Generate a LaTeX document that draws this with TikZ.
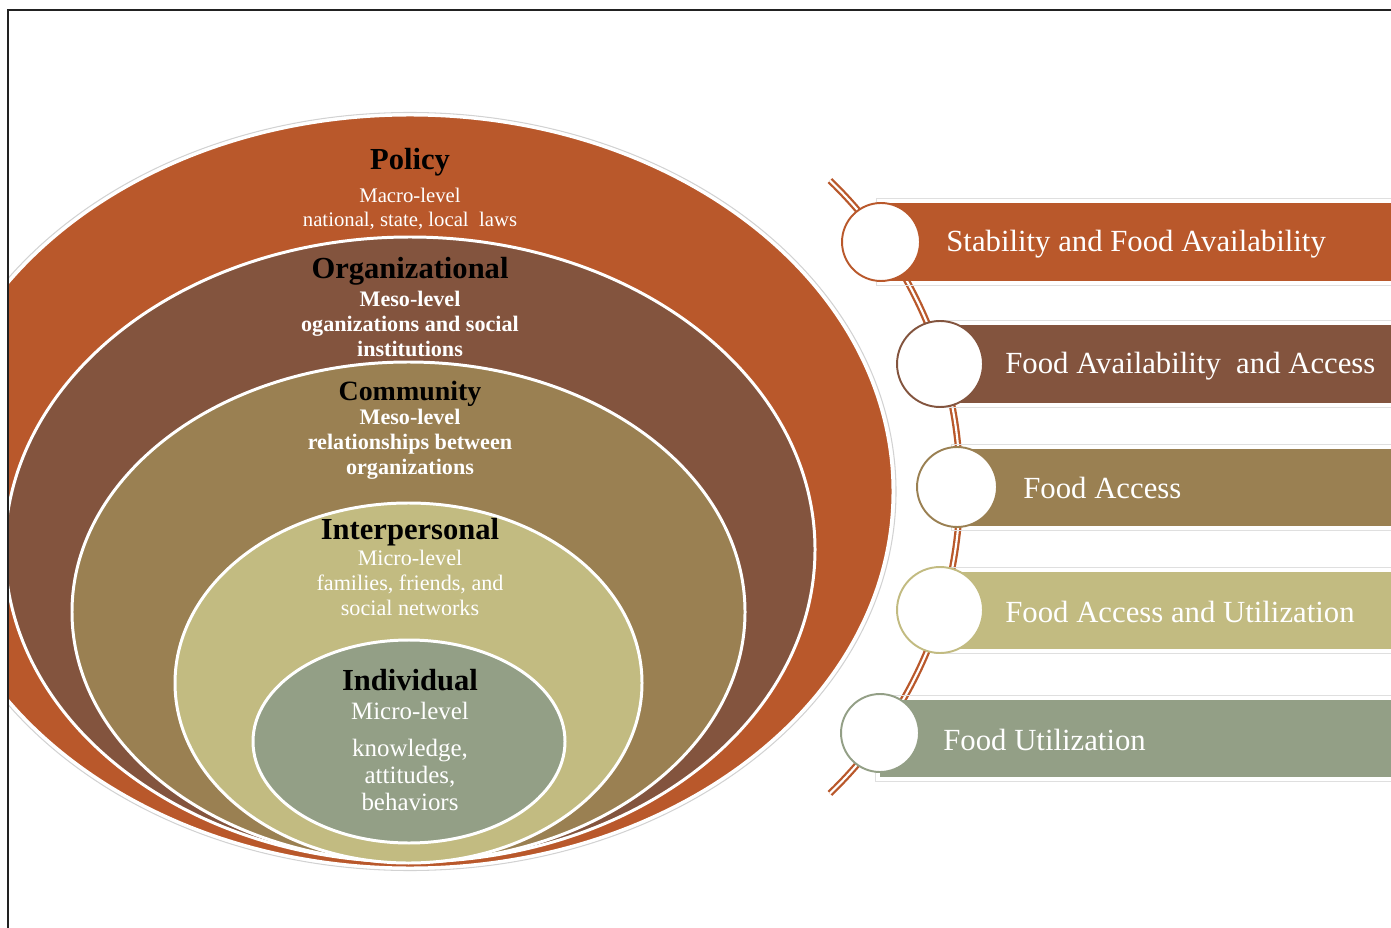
\documentclass[tikz,border=0pt]{standalone}
\usepackage{fontspec}
\setmainfont{Liberation Serif}
\definecolor{policyclr}{HTML}{B9582B}
\definecolor{orgclr}{HTML}{83543E}
\definecolor{commclr}{HTML}{9A8052}
\definecolor{interclr}{HTML}{C2BB81}
\definecolor{indivclr}{HTML}{939F86}
\definecolor{frameclr}{HTML}{222222}
\tikzset{
  layer/.style={draw=white, line width=1.7pt},
  head/.style={font=\bfseries\fontsize{17.4pt}{20pt}\selectfont, text=black, inner sep=0pt},
  subreg/.style={text=white, align=center, inner sep=0pt},
  subbold/.style={font=\bfseries\fontsize{12.6pt}{14.2pt}\selectfont, text=white, align=center, inner sep=0pt},
  ring/.style={circle, fill=white, line width=1.1pt, inner sep=0pt},
  bartext/.style={font=\fontsize{17.5pt}{20pt}\selectfont, text=white, inner sep=0pt, anchor=west},
  shade/.style={draw=gray!25, line width=0.5pt}
}
\begin{document}
\begin{tikzpicture}[x=0.02cm, y=-0.02cm]
		\useasboundingbox (0,0) rectangle (1391,928);
		
		%%%%% NESTED LEVELS %%%%%
		\begin{scope}
			\clip (9,11) rectangle (1391,928);
			\draw[gray!35, line width=0.6pt] (410,491.5) ellipse [x radius=486, y radius=379];
			\filldraw[layer, fill=policyclr] (410,491.5) ellipse [x radius=483, y radius=376.5];
			\filldraw[layer, fill=orgclr] (410,549.5) ellipse [x radius=405, y radius=312.5];
			\filldraw[layer, fill=commclr] (408.5,612) ellipse [x radius=336.5, y radius=250];
			\filldraw[layer, fill=interclr] (408.5,683) ellipse [x radius=233.5, y radius=180];
			\filldraw[layer, fill=indivclr] (409,741.5) ellipse [x radius=156, y radius=101.5];
		\end{scope}
		
		\node[head] (policy) at (410,162) {Policy};
		\node[subreg, font=\fontsize{11.8pt}{13.6pt}\selectfont] (policysub) at (410,209) {Macro-level\\national, state, local\ \ laws};
		
		\node[head] (org) at (410,271) {Organizational};
		\node[subbold] (orgsub) at (410,324) {Meso-level\\oganizations and social\\institutions};
		
		\node[head, font=\bfseries\fontsize{15.9pt}{18pt}\selectfont] (comm) at (410,394) {Community};
		\node[subbold] (commsub) at (410,444) {Meso-level\\relationships between\\organizations};
		
		\node[head] (inter) at (410,532) {Interpersonal};
		\node[subreg, font=\fontsize{12.6pt}{14.2pt}\selectfont] (intersub) at (410,583) {Micro-level\\families, friends, and\\social networks};
		
		\node[head] (indiv) at (410,680) {Individual};
		\node[subreg, font=\fontsize{14.2pt}{15.3pt}\selectfont] (indivmicro) at (410,711) {Micro-level};
		\node[subreg, font=\fontsize{14.2pt}{15.3pt}\selectfont] (indivsub) at (410,775) {knowledge,\\attitudes,\\behaviors};
		
		%%%%% FOOD SECURITY BARS %%%%%
		\draw[policyclr, double=white, double distance=1.2pt, line width=1.3pt] (534,487) ++(-46:426) arc [start angle=-46, end angle=46, radius=426];
		
		\draw[shade] (876,198) rectangle (1396,285);
		\fill[policyclr] (881,203) rectangle (1391,281);
		\draw[shade] (934,320) rectangle (1396,407);
		\fill[orgclr] (940,325) rectangle (1391,403);
		\draw[shade] (951,444) rectangle (1396,530);
		\fill[commclr] (957,449) rectangle (1391,526);
		\draw[shade] (934,567) rectangle (1396,653);
		\fill[interclr] (940,572) rectangle (1391,649);
		\draw[shade] (875,695) rectangle (1396,781);
		\fill[indivclr] (880,700) rectangle (1391,777);
		
		\node[ring, draw=policyclr, minimum size=1.56cm] (stab) at (881,242) {};
		\node[ring, draw=orgclr, minimum size=1.72cm] (avail) at (940,364) {};
		\node[ring, draw=commclr, minimum size=1.6cm] (access) at (957,487) {};
		\node[ring, draw=interclr, minimum size=1.72cm] (accutil) at (940,610) {};
		\node[ring, draw=indivclr, minimum size=1.56cm] (util) at (880,733) {};
		
		\node[bartext] (stabtxt) at (946,244) {Stability and Food Availability};
		\node[bartext] (availtxt) at (1005,366) {Food Availability\ \ and Access};
		\node[bartext] (accesstxt) at (1023,488) {Food Access};
		\node[bartext] (accutiltxt) at (1005,612) {Food Access and Utilization};
		\node[bartext] (utiltxt) at (943,740) {Food Utilization};
		
		%%%%% FRAME %%%%%
		\draw[frameclr, line width=1.2pt] (1391,10) -- (8,10) -- (8,928);
	\end{tikzpicture}
\end{document}
